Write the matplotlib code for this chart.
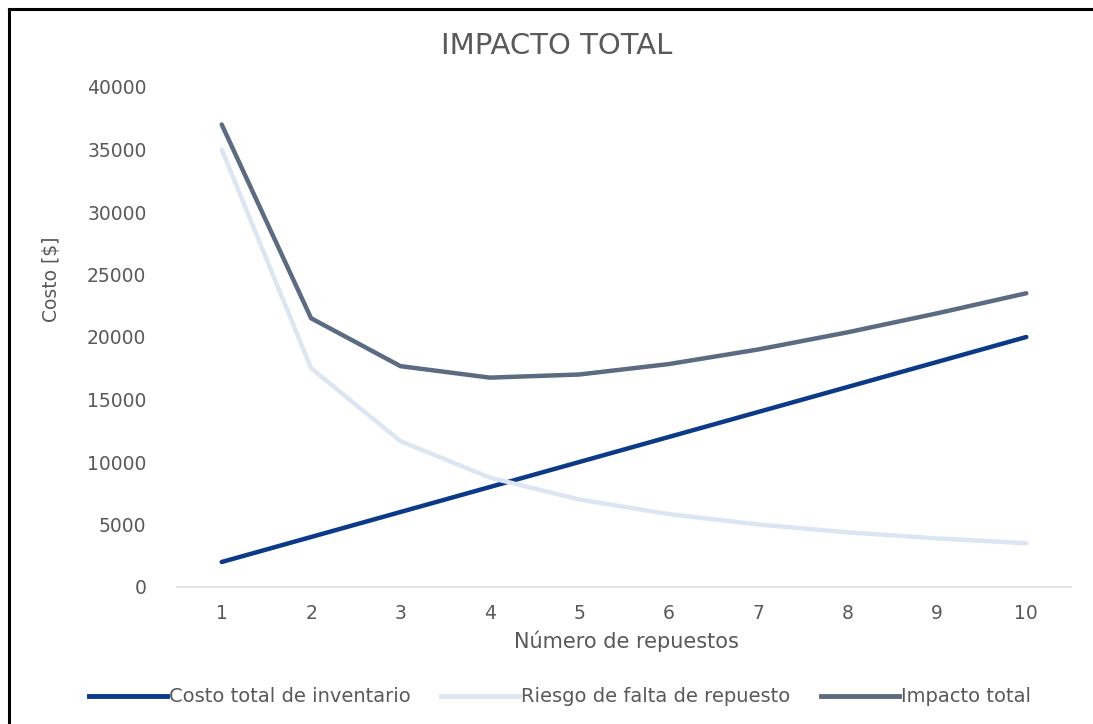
import matplotlib
matplotlib.use("Agg")
import matplotlib.pyplot as plt
from matplotlib.lines import Line2D

# Data
repuestos = [1, 2, 3, 4, 5, 6, 7, 8, 9, 10]
costo_inventario = [2000, 4000, 6000, 8000, 10000, 12000, 14000, 16000, 18000, 20000]
riesgo_falta = [35000, 17500, 11667, 8750, 7000, 5833, 5000, 4375, 3889, 3500]
impacto_total = [37000, 21500, 17667, 16750, 17000, 17833, 19000, 20375, 21889, 23500]
y_ticks = [0, 5000, 10000, 15000, 20000, 25000, 30000, 35000, 40000]

series_names = ["Costo total de inventario", "Riesgo de falta de repuesto", "Impacto total"]
colors = ["#0B3A89", "#DCE6F2", "#5B6B82"]
text_gray = "#595959"

plt.rcParams["font.family"] = ["DejaVu Sans"]

fig = plt.figure(figsize=(10.93, 7.24), dpi=100)
fig.patch.set_facecolor("white")

ax = fig.add_axes([177 / 1093, 1 - 587 / 724, (1071 - 177) / 1093, 500 / 724])

for vals, col, name in zip([costo_inventario, riesgo_falta, impacto_total], colors, series_names):
    ax.plot(repuestos, vals, color=col, linewidth=3.2, solid_capstyle="round",
            solid_joinstyle="round", label=name)

ax.set_xlim(0.5, 10.5)
ax.set_ylim(0, 40000)
ax.set_xticks(repuestos)
ax.set_xticklabels([str(v) for v in repuestos])
ax.set_yticks(y_ticks)
ax.set_yticklabels([str(v) for v in y_ticks])
ax.tick_params(axis="both", length=0, colors=text_gray, labelsize=13.5)
ax.tick_params(axis="x", pad=12)
ax.tick_params(axis="y", pad=22)

for side in ["top", "right", "left"]:
    ax.spines[side].set_visible(False)
ax.spines["bottom"].set_color("#E3E3E3")
ax.spines["bottom"].set_linewidth(1.5)
ax.set_facecolor("none")

fig.text(557 / 1093, 1 - 46 / 724, "IMPACTO TOTAL", ha="center", va="center",
         fontsize=21, color=text_gray)
fig.text(52 / 1093, 1 - 279 / 724, "Costo [$]", ha="center", va="center",
         rotation=90, fontsize=13.5, color=text_gray)
fig.text(626 / 1093, 1 - 641 / 724, "Número de repuestos", ha="center", va="center",
         fontsize=15, color=text_gray)

handles = [Line2D([0], [0], color=c, linewidth=3.5) for c in colors]
fig.legend(handles, series_names, loc="center", bbox_to_anchor=(560 / 1093, 1 - 697 / 724),
           ncol=3, frameon=False, fontsize=14, handlelength=4.0, handletextpad=0.1,
           columnspacing=1.6, labelcolor=text_gray)

# Black frame lines along the top and left of the figure
fig.add_artist(Line2D([9 / 1093, 9 / 1093], [0, 1 - 9 / 724], transform=fig.transFigure,
                      color="black", linewidth=2.2))
fig.add_artist(Line2D([9 / 1093, 1], [1 - 9 / 724, 1 - 9 / 724], transform=fig.transFigure,
                      color="black", linewidth=2.2))

fig.savefig("out.png", dpi=100, facecolor="white")
